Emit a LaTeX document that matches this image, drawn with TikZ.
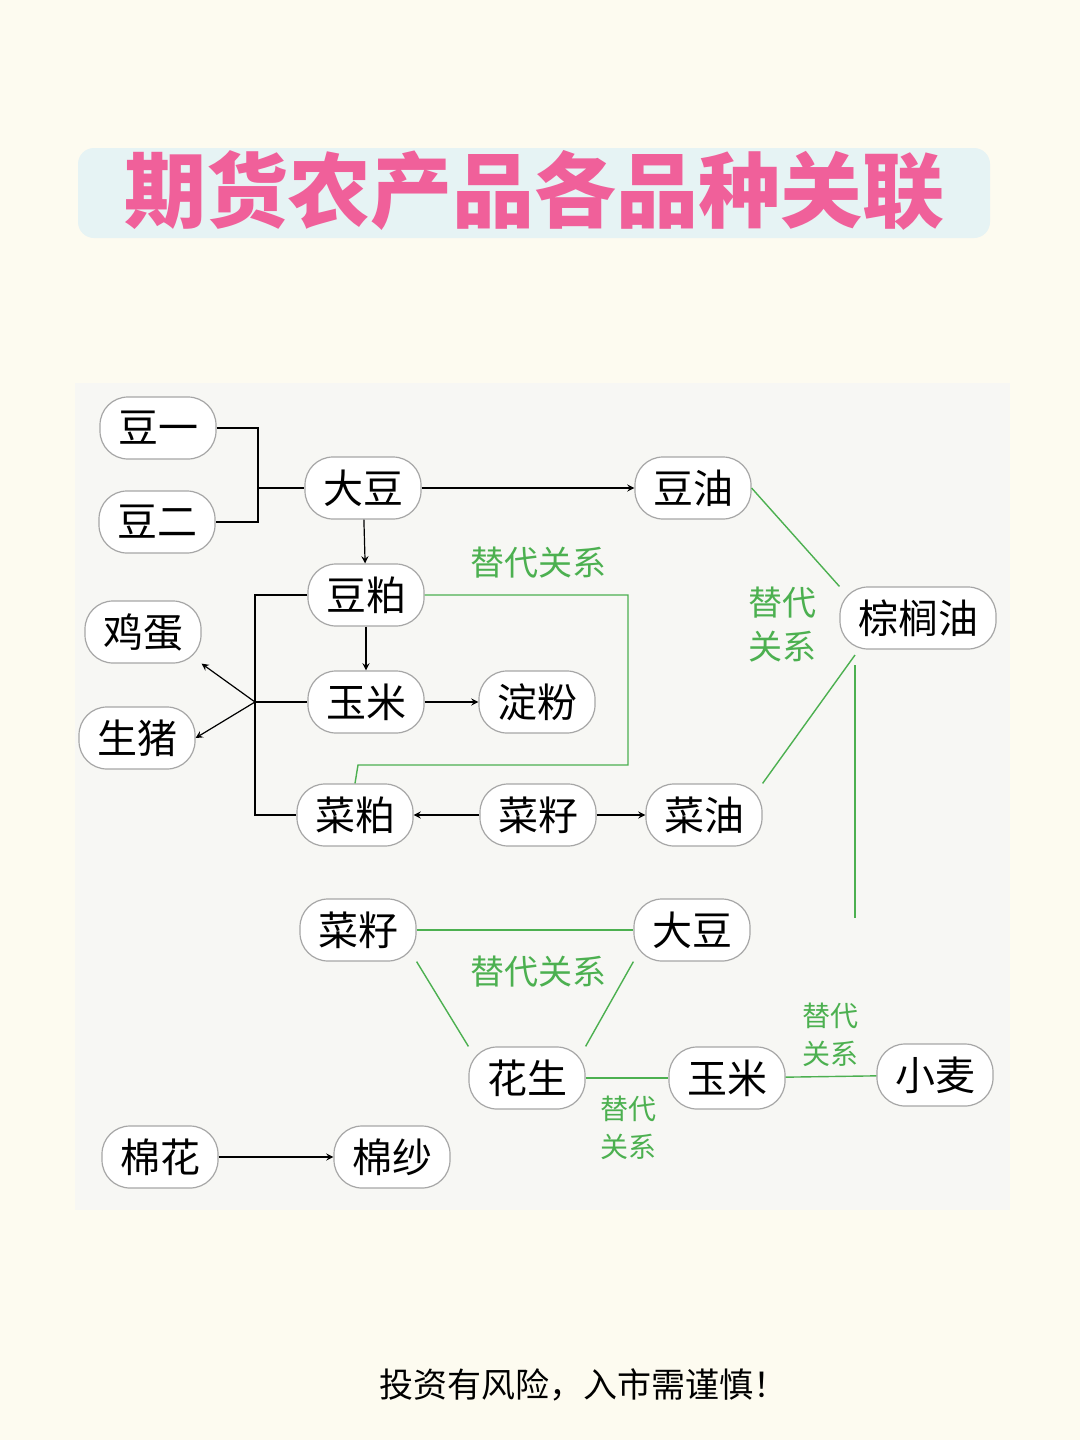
\documentclass[tikz,border=0pt]{standalone}
\usepackage{fontspec}
\setmainfont{Noto Sans CJK SC}
\usetikzlibrary{positioning}
\usepackage{xcolor}
\definecolor{bgcream}{HTML}{FDFBF0}
\definecolor{panel}{HTML}{F7F7F4}
\definecolor{titlebg}{HTML}{E6F3F4}
\definecolor{titlepink}{HTML}{F0609A}
\definecolor{subgreen}{HTML}{4CB050}
\tikzset{
  item/.style={draw=gray!70, fill=white, rounded corners=14pt, font=\fontsize{20}{22}\selectfont,
    minimum height=31pt, inner xsep=9pt, line width=0.6pt},
  link/.style={black, line width=0.6pt},
  sub/.style={subgreen, line width=0.7pt},
  sublabel/.style={subgreen, font=\fontsize{17}{22}\selectfont, align=center}
}
\begin{document}
\begin{tikzpicture}[x=0.5pt, y=-0.5pt, >=stealth]
	    		\fill[bgcream] (0,0) rectangle (1080,1440);
	    		\fill[panel] (75,383) rectangle (1010,1210);
	    		\fill[titlebg, rounded corners=8pt] (78,148) rectangle (990,238);
	    		\node[titlepink, font=\bfseries\fontsize{41}{44}\selectfont] (title) at (534,190) {期货农产品各品种关联};
	    		% top group
	    		\node[item] (douyi) at (158,428) {豆一};
	    		\node[item] (douer) at (157,522) {豆二};
	    		\node[item] (dadou) at (363,488) {大豆};
	    		\node[item] (douyou) at (693,488) {豆油};
	    		\node[item] (doupo) at (366,595) {豆粕};
	    		\node[item] (zonglv) at (918,618) {棕榈油};
	    		\node[item] (jidan) at (143,632) {鸡蛋};
	    		\node[item] (yumi) at (366,702) {玉米};
	    		\node[item] (dianfen) at (537,702) {淀粉};
	    		\node[item] (shengzhu) at (137,738) {生猪};
	    		\node[item] (caipo) at (355,815) {菜粕};
	    		\node[item] (caizi) at (538,815) {菜籽};
	    		\node[item] (caiyou) at (704,815) {菜油};
	    		% lower group
	    		\node[item] (caizib) at (358,930) {菜籽};
	    		\node[item] (dadoub) at (692,930) {大豆};
	    		\node[item] (huasheng) at (527,1078) {花生};
	    		\node[item] (yumib) at (727,1078) {玉米};
	    		\node[item] (xiaomai) at (935,1075) {小麦};
	    		\node[item] (mianhua) at (160,1157) {棉花};
	    		\node[item] (miansha) at (392,1157) {棉纱};
	    		\node[font=\fontsize{17}{20}\selectfont] (note) at (583,1385) {投资有风险，入市需谨慎！};
	    		% black links
	    		\coordinate (joinA) at (258,488);
	    		\draw[link] (douyi.east) -| (joinA) |- (douer.east);
	    		\draw[link] (joinA) -- (dadou.west);
	    		\draw[link, ->] (dadou) -- (douyou);
	    		\draw[link, ->] (dadou) -- (doupo);
	    		\draw[link, ->] (doupo) -- (yumi);
	    		\draw[link, ->] (yumi) -- (dianfen);
	    		\draw[link, ->] (caizi) -- (caipo);
	    		\draw[link, ->] (caizi) -- (caiyou);
	    		\coordinate (joinB) at (255,702);
	    		\draw[link] (doupo.west) -| (255,815) -- (caipo.west);
	    		\draw[link] (joinB) -- (yumi.west);
	    		\draw[link, ->] (joinB) -- (jidan.south east);
	    		\draw[link, ->] (joinB) -- (shengzhu.east);
	    		\draw[link, ->] (mianhua) -- (miansha);
	    		% green links
	    		\draw[sub] (doupo.east) -- (628,595) -- (628,765) -- (358,765) -- (caipo.north);
	    		\node[sublabel] (lab1) at (538,563) {替代关系};
	    		\draw[sub] (douyou.east) -- (zonglv.north west);
	    		\coordinate (palmfoot) at (855,918);
	    		\draw[sub] (caiyou.north east) -- (855,655);
	    		\draw[sub] (855,665) -- (palmfoot);
	    		\node[sublabel] (lab2) at (782,625) {替代\\关系};
	    		\draw[sub] (caizib) -- (dadoub);
	    		\draw[sub] (caizib.south east) -- (huasheng.north west);
	    		\draw[sub] (dadoub.south west) -- (huasheng.north east);
	    		\node[sublabel] (lab3) at (538,972) {替代关系};
	    		\draw[sub] (huasheng) -- (yumib);
	    		\node[sublabel, font=\fontsize{14}{19}\selectfont] (lab4) at (628,1128) {替代\\关系};
	    		\draw[sub] (yumib) -- (xiaomai);
	    		\node[sublabel, font=\fontsize{14}{19}\selectfont] (lab5) at (830,1035) {替代\\关系};
\end{tikzpicture}
\end{document}
